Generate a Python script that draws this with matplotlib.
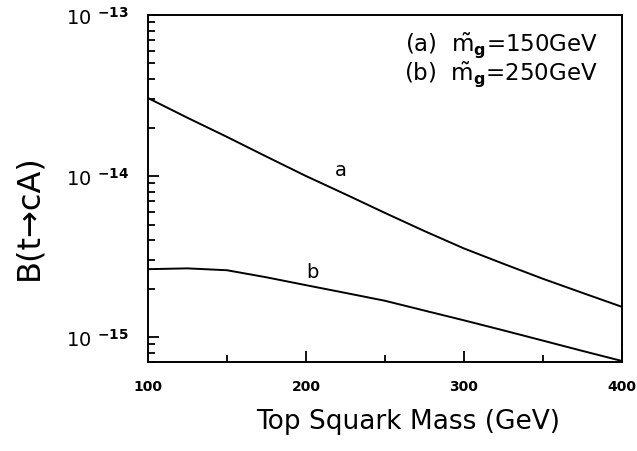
import math
import matplotlib
matplotlib.use("Agg")
import matplotlib.pyplot as plt
import matplotlib.ticker as ticker

# top squark mass (GeV)
mass = [100, 125, 150, 175, 200, 225, 250, 275, 300, 325, 350, 375, 400]
# (a) gluino mass 150 GeV
br_a = [3.05e-14, 2.3e-14, 1.75e-14, 1.32e-14, 1.0e-14, 7.7e-15, 5.9e-15,
        4.55e-15, 3.55e-15, 2.85e-15, 2.3e-15, 1.88e-15, 1.54e-15]
# (b) gluino mass 250 GeV
br_b = [2.64e-15, 2.67e-15, 2.6e-15, 2.35e-15, 2.1e-15, 1.88e-15, 1.68e-15,
        1.46e-15, 1.27e-15, 1.1e-15, 9.5e-16, 8.2e-16, 7.1e-16]

xticks = [100, 200, 300, 400]
yticks = [1e-15, 1e-14, 1e-13]

plt.rcParams['font.family'] = ['DejaVu Sans']
plt.rcParams['mathtext.fontset'] = 'dejavusans'

fig = plt.figure(figsize=(6.37, 4.52), dpi=100)
ax = fig.add_axes([0.2323, 0.1969, 0.7442, 0.7677])

ax.plot(mass, br_a, color='black', lw=1.4)
ax.plot(mass, br_b, color='black', lw=1.4)

ax.set_yscale('log')
ax.set_xlim(100, 400)
ax.set_ylim(7e-16, 1e-13)

ax.set_xticks(xticks)
ax.set_xticklabels([str(v) for v in xticks], fontsize=10, fontweight='bold')
ax.xaxis.set_minor_locator(ticker.MultipleLocator(50))
ax.set_yticks(yticks)
ax.set_yticklabels(['10 $^{\\mathbf{%d}}$' % round(math.log10(v)) for v in yticks],
                   fontsize=14)
ax.yaxis.set_minor_locator(ticker.LogLocator(base=10, subs=range(2, 10)))
ax.yaxis.set_minor_formatter(ticker.NullFormatter())

ax.tick_params(which='both', direction='in', top=False, right=False, width=1.3)
ax.tick_params(axis='y', which='major', length=8, pad=14)
ax.tick_params(axis='x', which='major', length=8, pad=12)
ax.tick_params(which='minor', length=5)
for s in ax.spines.values():
    s.set_linewidth(1.4)

ax.text(222, 1.1e-14, 'a', fontsize=14, ha='center', va='center')
ax.text(204, 2.57e-15, 'b', fontsize=14, ha='center', va='center')
ax.text(0.949, 0.958, '(a)  $\\tilde{\\mathrm{m}}_{\\mathbf{g}}$=150GeV\n(b)  $\\tilde{\\mathrm{m}}_{\\mathbf{g}}$=250GeV',
        transform=ax.transAxes, ha='right', va='top', fontsize=16.5, linespacing=0.95)

ax.set_xlabel('Top Squark Mass (GeV)', fontsize=19)
ax.xaxis.set_label_coords((408 - 148) / 474, -(422 - 363) / 347)
ax.xaxis.label.set_va('center')
ax.set_ylabel('B(t\u2192cA)', fontsize=23)
ax.yaxis.set_label_coords(-(148 - 29) / 474, (363 - 217) / 347)
ax.yaxis.label.set_va('center')

fig.savefig('out.png', dpi=100)
